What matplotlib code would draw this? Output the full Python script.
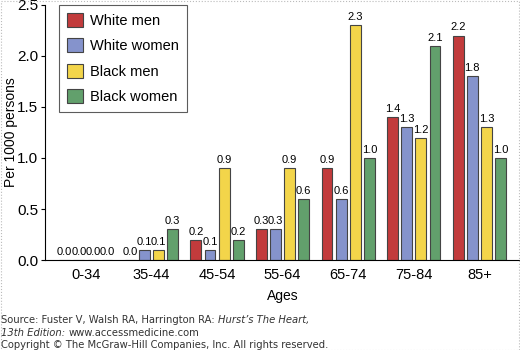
import numpy as np
import matplotlib.pyplot as plt
from matplotlib.patches import Rectangle

ages = ['0-34', '35-44', '45-54', '55-64', '65-74', '75-84', '85+']
series = ['White men', 'White women', 'Black men', 'Black women']
white_men = [0.0, 0.0, 0.2, 0.3, 0.9, 1.4, 2.2]
white_women = [0.0, 0.1, 0.1, 0.3, 0.6, 1.3, 1.8]
black_men = [0.0, 0.1, 0.9, 0.9, 2.3, 1.2, 1.3]
black_women = [0.0, 0.3, 0.2, 0.6, 1.0, 2.1, 1.0]
colors = ['#c23b3c', '#8593cc', '#f3d54a', '#62a06c']

plt.rcParams['font.family'] = ['Liberation Sans', 'DejaVu Sans']

fig = plt.figure(figsize=(5.2, 3.5), dpi=100)
ax = fig.add_axes([0.087, 0.257, 0.913, 0.729])

x = np.arange(len(ages))
pitch = 0.215
width = 0.165
for i, (vals, name) in enumerate(zip([white_men, white_women, black_men, black_women], series)):
    pos = x + (i - 1.5) * pitch
    ax.bar(pos, vals, width, color=colors[i], edgecolor='#444444',
           linewidth=0.8, label=name)
    for p, v in zip(pos, vals):
        ax.text(p, v + 0.03, '%.1f' % v, ha='center', va='bottom', fontsize=8)

ax.set_xlim(-0.62, 6.62)
ax.set_ylim(0, 2.5)
ax.set_yticks([0, 0.5, 1.0, 1.5, 2.0, 2.5])
ax.set_yticklabels(['0.0', '0.5', '1.0', '1.5', '2.0', '2.5'], fontsize=11)
ax.set_xticks(x)
ax.set_xticklabels(ages, fontsize=10.5)
ax.tick_params(axis='x', length=0, pad=6)
ax.tick_params(axis='y', length=3, width=0.8, pad=2)
ax.spines['top'].set_visible(False)
ax.spines['right'].set_visible(False)
ax.set_ylabel('Per 1000 persons', fontsize=10)
ax.yaxis.set_label_coords(-0.058, 0.5)
ax.set_xlabel('Ages', fontsize=10, labelpad=5)

leg = ax.legend(loc='upper left', bbox_to_anchor=(0.028, 1.0), borderaxespad=0,
                fontsize=10.5, handlelength=1.1, handleheight=1.1, handletextpad=0.5,
                labelspacing=0.72, borderpad=0.55, fancybox=False, frameon=True)
leg.get_frame().set_edgecolor('#333333')
leg.get_frame().set_linewidth(0.8)

# source lines, with italic parts placed after the measured plain text
src = dict(fontsize=7.2, family='DejaVu Sans', color='#333333')
fig.canvas.draw()
renderer = fig.canvas.get_renderer()
line1 = [('Source: Fuster V, Walsh RA, Harrington RA: ', 'normal'), ("Hurst\u2019s The Heart,", 'italic')]
line2 = [('13th Edition: ', 'italic'), ('www.accessmedicine.com', 'normal')]
for parts, y in [(line1, 0.078), (line2, 0.04)]:
    xpos = 0.002
    for s, st in parts:
        t = fig.text(xpos, y, s, style=st, **src)
        bb = t.get_window_extent(renderer)
        xpos += bb.width / fig.bbox.width
fig.text(0.002, 0.006, 'Copyright \u00a9 The McGraw-Hill Companies, Inc. All rights reserved.', **src)

fig.patches.append(Rectangle((0.001, 0.001), 0.997, 0.997, transform=fig.transFigure,
                             fill=False, edgecolor='#bbbbbb', linestyle=':', linewidth=0.8))

fig.savefig('out.png', dpi=100)
